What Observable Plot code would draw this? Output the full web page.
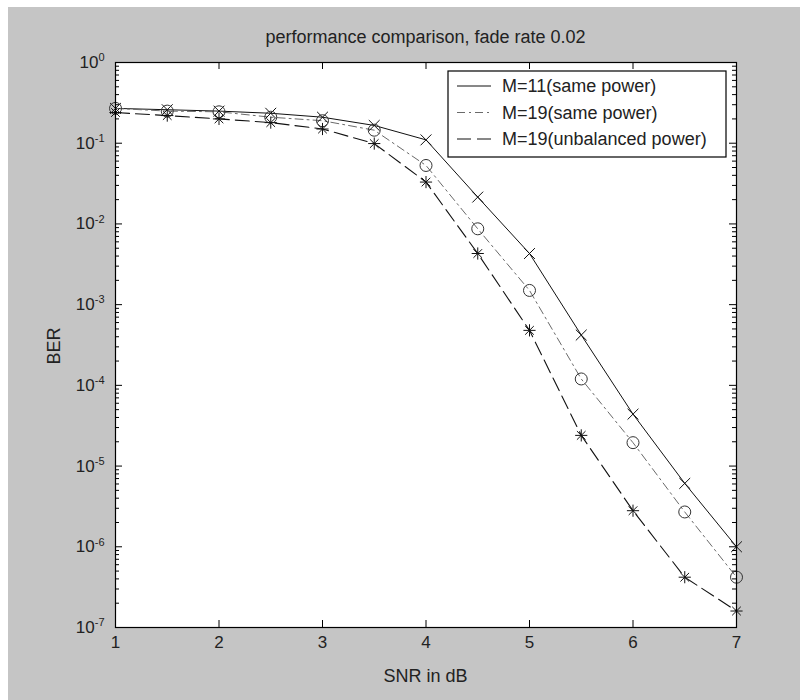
<!DOCTYPE html>
<html><head><meta charset="utf-8">
<script src="https://cdn.jsdelivr.net/npm/d3@7"></script>
<script src="https://cdn.jsdelivr.net/npm/@observablehq/plot@0.6"></script>
<style>
body{margin:0;background:#fff;}
svg{display:block;}
</style>
</head><body><div id="chart"></div>
<script>
// ---- data ----
const snr = [1, 1.5, 2, 2.5, 3, 3.5, 4, 4.5, 5, 5.5, 6, 6.5, 7];
const berM11Same  = [0.27, 0.26, 0.25, 0.235, 0.21, 0.166, 0.11, 0.0215, 0.0043, 4.2e-4, 4.4e-5, 6.1e-6, 1.0e-6];
const berM19Same  = [0.27, 0.25, 0.245, 0.21, 0.19, 0.145, 0.053, 0.0087, 0.0015, 1.2e-4, 1.95e-5, 2.7e-6, 4.2e-7];
const berM19Unbal = [0.24, 0.22, 0.20, 0.18, 0.15, 0.099, 0.033, 0.0043, 4.8e-4, 2.4e-5, 2.8e-6, 4.2e-7, 1.6e-7];
const seriesNames = ["M=11(same power)", "M=19(same power)", "M=19(unbalanced power)"];
const xTicks = [1, 2, 3, 4, 5, 6, 7];
const yExponents = [0, -1, -2, -3, -4, -5, -6, -7];
const titleText = "performance comparison, fade rate 0.02";
const xLabel = "SNR in dB";
const yLabel = "BER";

// ---- styles ----
const FONT = "'Liberation Sans', Arial, Helvetica, sans-serif";
const styles = [
  {stroke: "#111", dash: null, width: 1},
  {stroke: "#6a6a6a", dash: "8,4,2,4", width: 1},
  {stroke: "#111", dash: "14,6", width: 1.1}
];
const W = 800, H = 700, mt = 62, mr = 64, mb = 73, ml = 115;
const pw = W - ml - mr, ph = H - mt - mb;

const allSeries = [berM11Same, berM19Same, berM19Unbal];
const rows = k => snr.map((x, i) => ({x, y: allSeries[k][i]}));
const major = yExponents.map(e => 10 ** e);
const minor = [];
for (let e = -7; e < 0; e++) for (let m = 2; m <= 9; m++) minor.push(m * 10 ** e);

const lineMark = k => Plot.line(rows(k), {x: "x", y: "y", stroke: styles[k].stroke, strokeWidth: styles[k].width, strokeDasharray: styles[k].dash});

const chart = Plot.plot({
  width: W, height: H,
  marginTop: mt, marginRight: mr, marginBottom: mb, marginLeft: ml,
  style: {background: "transparent", fontFamily: FONT, fontSize: "16px", color: "black", overflow: "visible"},
  x: {domain: [1, 7], axis: null},
  y: {type: "log", domain: [1e-7, 1], axis: null},
  marks: [
    Plot.frame({fill: "white", stroke: "none"}),
    lineMark(0), lineMark(1), lineMark(2),
    Plot.dot(rows(0), {x: "x", y: "y", symbol: "times", r: 5, stroke: "#111", fill: "none", strokeWidth: 1}),
    Plot.dot(rows(1), {x: "x", y: "y", symbol: "circle", r: 6, stroke: "#333", fill: "none", strokeWidth: 1}),
    Plot.dot(rows(2), {x: "x", y: "y", symbol: "plus", r: 4, stroke: "#111", fill: "none", strokeWidth: 1}),
    Plot.dot(rows(2), {x: "x", y: "y", symbol: "times", r: 4, stroke: "#111", fill: "none", strokeWidth: 1}),
    Plot.ruleX(xTicks, {x: d => d, insetTop: ph - 7, stroke: "black"}),
    Plot.ruleX(xTicks, {x: d => d, insetBottom: ph - 7, stroke: "black"}),
    Plot.ruleY(major, {y: d => d, insetRight: pw - 7, stroke: "black"}),
    Plot.ruleY(major, {y: d => d, insetLeft: pw - 7, stroke: "black"}),
    Plot.ruleY(minor, {y: d => d, insetRight: pw - 4, stroke: "black"}),
    Plot.ruleY(minor, {y: d => d, insetLeft: pw - 4, stroke: "black"}),
    Plot.frame({stroke: "black", strokeWidth: 1.2}),
    Plot.text(xTicks, {x: d => d, frameAnchor: "bottom", dy: 20, text: d => String(d), fontSize: 17, fill: "#222"}),
    Plot.text(yExponents, {y: d => 10 ** d, frameAnchor: "left", dx: -11, textAnchor: "end", text: d => `10^${d}`, fontSize: 17, fill: "#222"})
  ]
});

const svg = d3.select(chart);
// superscripts for y tick labels
svg.selectAll("text").each(function () {
  const m = /^10\^(-?\d+)$/.exec(this.textContent);
  if (m) {
    const el = d3.select(this);
    el.text("10");
    el.append("tspan").attr("dy", "-0.6em").attr("font-size", "11px").text(m[1]);
  }
});
// gray page background
svg.insert("rect", ":first-child").attr("x", 8).attr("y", 7).attr("width", W - 8).attr("height", H - 7).attr("fill", "#c5c5c5");
svg.insert("rect", ":first-child").attr("x", 0).attr("y", 0).attr("width", W).attr("height", H).attr("fill", "#ffffff");

// title and axis labels
svg.append("text").attr("x", (ml + W - mr) / 2).attr("y", 43).attr("text-anchor", "middle")
  .attr("font-family", FONT).attr("font-size", 18).attr("fill", "#222").text(titleText);
svg.append("text").attr("x", (ml + W - mr) / 2).attr("y", 682).attr("text-anchor", "middle")
  .attr("font-family", FONT).attr("font-size", 18).attr("fill", "#222").text(xLabel);
svg.append("text").attr("transform", "translate(60,346) rotate(-90)").attr("text-anchor", "middle")
  .attr("font-family", FONT).attr("font-size", 18).attr("fill", "#222").text(yLabel);

// legend
const lg = svg.append("g");
lg.append("rect").attr("x", 448).attr("y", 71).attr("width", 278).attr("height", 86)
  .attr("fill", "white").attr("stroke", "black").attr("stroke-width", 1.2);
seriesNames.forEach((name, k) => {
  const yy = 86 + k * 26.5;
  lg.append("line").attr("x1", 457).attr("x2", 491).attr("y1", yy).attr("y2", yy)
    .attr("stroke", styles[k].stroke).attr("stroke-width", styles[k].width)
    .attr("stroke-dasharray", styles[k].dash);
  lg.append("text").attr("x", 502).attr("y", yy + 6).attr("text-anchor", "start").attr("font-family", FONT)
    .attr("font-size", 18).attr("fill", "#222").text(name);
});

document.getElementById("chart").appendChild(chart);
</script>
</body></html>
